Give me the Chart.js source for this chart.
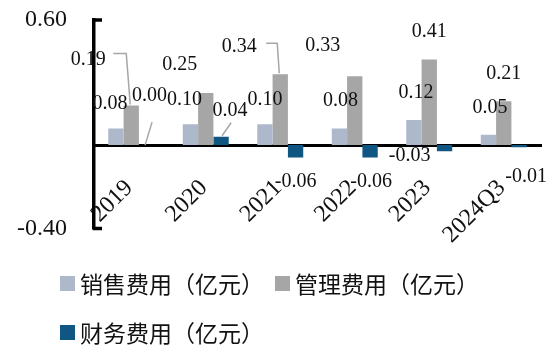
<!DOCTYPE html>
<html lang="zh-CN">
<head>
<meta charset="utf-8">
<title>期间费用</title>
<script src="https://cdn.jsdelivr.net/npm/chart.js@4.4.1/dist/chart.umd.min.js"></script>
<style>
  html, body { margin: 0; padding: 0; background: #fff; }
  #wrap { position: relative; width: 557px; height: 349px; overflow: hidden; }
  #chart { position: absolute; left: 0; top: 0; }
  #legend { position: absolute; left: 60px; top: 0; font-family: "Noto Sans CJK SC", sans-serif; font-size: 23px; line-height: 1; color: #111; }
  #legend .item { position: absolute; white-space: nowrap; display: flex; align-items: center; height: 23px; }
  #legend .swatch { display: inline-block; width: 15px; height: 15px; margin-right: 5px; }
</style>
</head>
<body>
<div id="wrap">
  <canvas id="chart" width="557" height="349"></canvas>
  <div id="legend"></div>
</div>
<script>
// Period expenses by year (unit: 100 million yuan)
const categories = ['2019', '2020', '2021', '2022', '2023', '2024Q3'];
const salesExpense = [0.08, 0.10, 0.10, 0.08, 0.12, 0.05];
const adminExpense = [0.19, 0.25, 0.34, 0.33, 0.41, 0.21];
const financeExpense = [0.00, 0.04, -0.06, -0.06, -0.03, -0.01];
const seriesNames = ['销售费用（亿元）', '管理费用（亿元）', '财务费用（亿元）'];
const yTickValues = [-0.40, 0.60];

const seriesColors = ['#ADB9CB', '#A6A6A6', '#0F5782'];
const serifFont = '"Liberation Serif", "Times New Roman", serif';

// Value-label placement relative to each bar's tip, per series: [dx, dy]
const labelOffsets = [
  [[-6, -25], [-6, -25], [0, -25], [1, -28], [2, -27], [1.5, -27]],
  [[-43, -46], [-26, -28], [-41, -27], [-32, -31], [0, -28], [0, -28]],
  [[3, -49], [9, -26], [0, 24], [1, 24], [-35, 4], [7, 30]]
];
// Leader lines: polyline points relative to the bar tip
const leaderLines = [
  { ds: 1, idx: 0, pts: [[-18, -52], [-5, -52], [-1, -1]] },
  { ds: 1, idx: 2, pts: [[-14, -31], [-3, -31], [-1, -1]] },
  { ds: 2, idx: 0, pts: [[5.5, -23], [-1.5, 0]] },
  { ds: 2, idx: 1, pts: [[10, -14], [1, -1]] }
];

const valueLabels = {
  id: 'valueLabels',
  afterDatasetsDraw(chart) {
    const ctx = chart.ctx;
    ctx.save();
    // leader lines
    ctx.strokeStyle = '#A6A6A6';
    ctx.lineWidth = 1.5;
    leaderLines.forEach(l => {
      const el = chart.getDatasetMeta(l.ds).data[l.idx];
      ctx.beginPath();
      l.pts.forEach((p, k) => {
        const px = el.x + p[0], py = el.y + p[1];
        if (k === 0) ctx.moveTo(px, py); else ctx.lineTo(px, py);
      });
      ctx.stroke();
    });
    // labels
    ctx.font = '20px ' + serifFont;
    ctx.fillStyle = '#111';
    ctx.textAlign = 'center';
    ctx.textBaseline = 'middle';
    chart.data.datasets.forEach((ds, i) => {
      chart.getDatasetMeta(i).data.forEach((el, j) => {
        const off = labelOffsets[i][j];
        ctx.fillText(ds.data[j].toFixed(2), el.x + off[0], el.y + off[1]);
      });
    });
    ctx.restore();
  }
};

// Inward tick marks on the value axis
const axisTicks = {
  id: 'axisTicks',
  afterDraw(chart) {
    const y = chart.scales.y;
    const ctx = chart.ctx;
    ctx.save();
    ctx.strokeStyle = '#000';
    ctx.lineWidth = 3.5;
    yTickValues.forEach(v => {
      const py = y.getPixelForValue(v);
      ctx.beginPath();
      ctx.moveTo(y.right - 1.5, py);
      ctx.lineTo(y.right + 8, py);
      ctx.stroke();
    });
    ctx.restore();
  }
};

new Chart(document.getElementById('chart'), {
  type: 'bar',
  data: {
    labels: categories,
    datasets: [
      { label: seriesNames[0], data: salesExpense, backgroundColor: seriesColors[0] },
      { label: seriesNames[1], data: adminExpense, backgroundColor: seriesColors[1] },
      { label: seriesNames[2], data: financeExpense, backgroundColor: seriesColors[2] }
    ]
  },
  options: {
    responsive: false,
    animation: false,
    layout: { padding: { left: 0, top: 20, right: 16, bottom: 120.5 } },
    datasets: { bar: { categoryPercentage: 0.617, barPercentage: 1.0, borderWidth: 0 } },
    plugins: { legend: { display: false }, tooltip: { enabled: false } },
    scales: {
      x: {
        position: { y: 0 },
        z: 1,
        grid: { display: false, drawTicks: false },
        border: { display: true, width: 3, color: '#000' },
        ticks: {
          autoSkip: false,
          minRotation: 45,
          maxRotation: 45,
          padding: 29,
          labelOffset: -2,
          color: '#111',
          font: { family: serifFont, size: 24 }
        }
      },
      y: {
        min: -0.4,
        max: 0.6,
        afterBuildTicks: scale => { scale.ticks = yTickValues.map(v => ({ value: v })); },
        afterFit: scale => {
          scale.width = 94;
          scale.paddingTop = 0;
          scale.paddingBottom = 0;
        },
        grid: { display: false, drawTicks: false },
        border: { display: true, width: 3.5, color: '#000' },
        ticks: {
          padding: 27,
          color: '#111',
          font: { family: serifFont, size: 24 },
          callback: v => Number(v).toFixed(2)
        }
      }
    }
  },
  plugins: [valueLabels, axisTicks]
});

// Legend
const legend = document.getElementById('legend');
const legendSlots = [[0, 272], [215, 272], [0, 321]];
seriesNames.forEach((name, i) => {
  const item = document.createElement('div');
  item.className = 'item';
  item.style.left = legendSlots[i][0] + 'px';
  item.style.top = legendSlots[i][1] + 'px';
  const sw = document.createElement('span');
  sw.className = 'swatch';
  sw.style.background = seriesColors[i];
  item.appendChild(sw);
  item.appendChild(document.createTextNode(name));
  legend.appendChild(item);
});
</script>
</body>
</html>
